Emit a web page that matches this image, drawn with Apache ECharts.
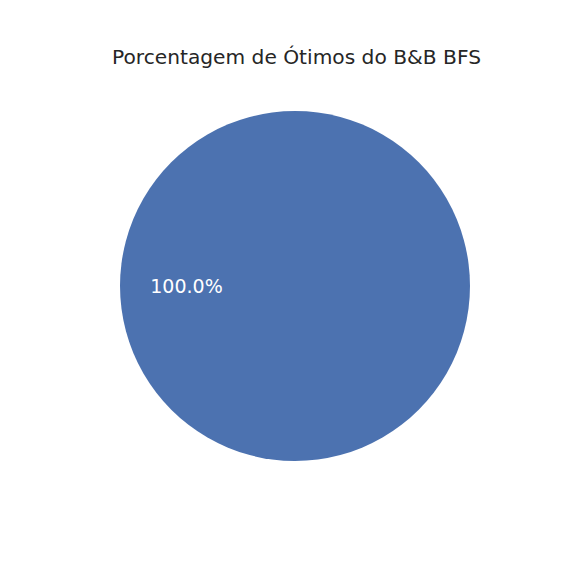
<!DOCTYPE html>
<html>
<head>
<meta charset="utf-8">
<script src="https://cdn.jsdelivr.net/npm/echarts@6/dist/echarts.min.js"></script>
<style>
  html, body { margin: 0; padding: 0; background: #ffffff; }
  #chart { width: 576px; height: 576px; }
</style>
</head>
<body>
<div id="chart"></div>
<script>
var titleText = 'Porcentagem de Ótimos do B&B BFS';
var sliceNames = ['Ótimos'];
var sliceValues = [100];
var sliceColors = ['#4c72b0'];

(function() {
  var chart = echarts.init(document.getElementById('chart'), null, { renderer: 'svg' });
  var total = sliceValues.reduce(function(a, b) { return a + b; }, 0);

  chart.setOption({
    animation: false,
    title: {
      text: titleText,
      left: 107,
      top: 42,
      textStyle: { fontFamily: 'DejaVu Sans', fontSize: 20.2, fontWeight: 'normal', color: '#262626' }
    },
    series: [{
      type: 'pie',
      center: [295, 286],
      radius: [0, 175],
      startAngle: 0,
      clockwise: false,
      silent: true,
      label: {
        show: true,
        position: 'inside',
        formatter: function(p) { return (p.value / total * 100).toFixed(1) + '%'; },
        fontFamily: 'DejaVu Sans',
        fontSize: 19,
        color: '#ffffff',
        padding: [0, 36, 0, 0]
      },
      labelLine: { show: false },
      data: sliceNames.map(function(n, i) {
        return { name: n, value: sliceValues[i], itemStyle: { color: sliceColors[i] } };
      })
    }]
  });
})();
</script>
</body>
</html>
